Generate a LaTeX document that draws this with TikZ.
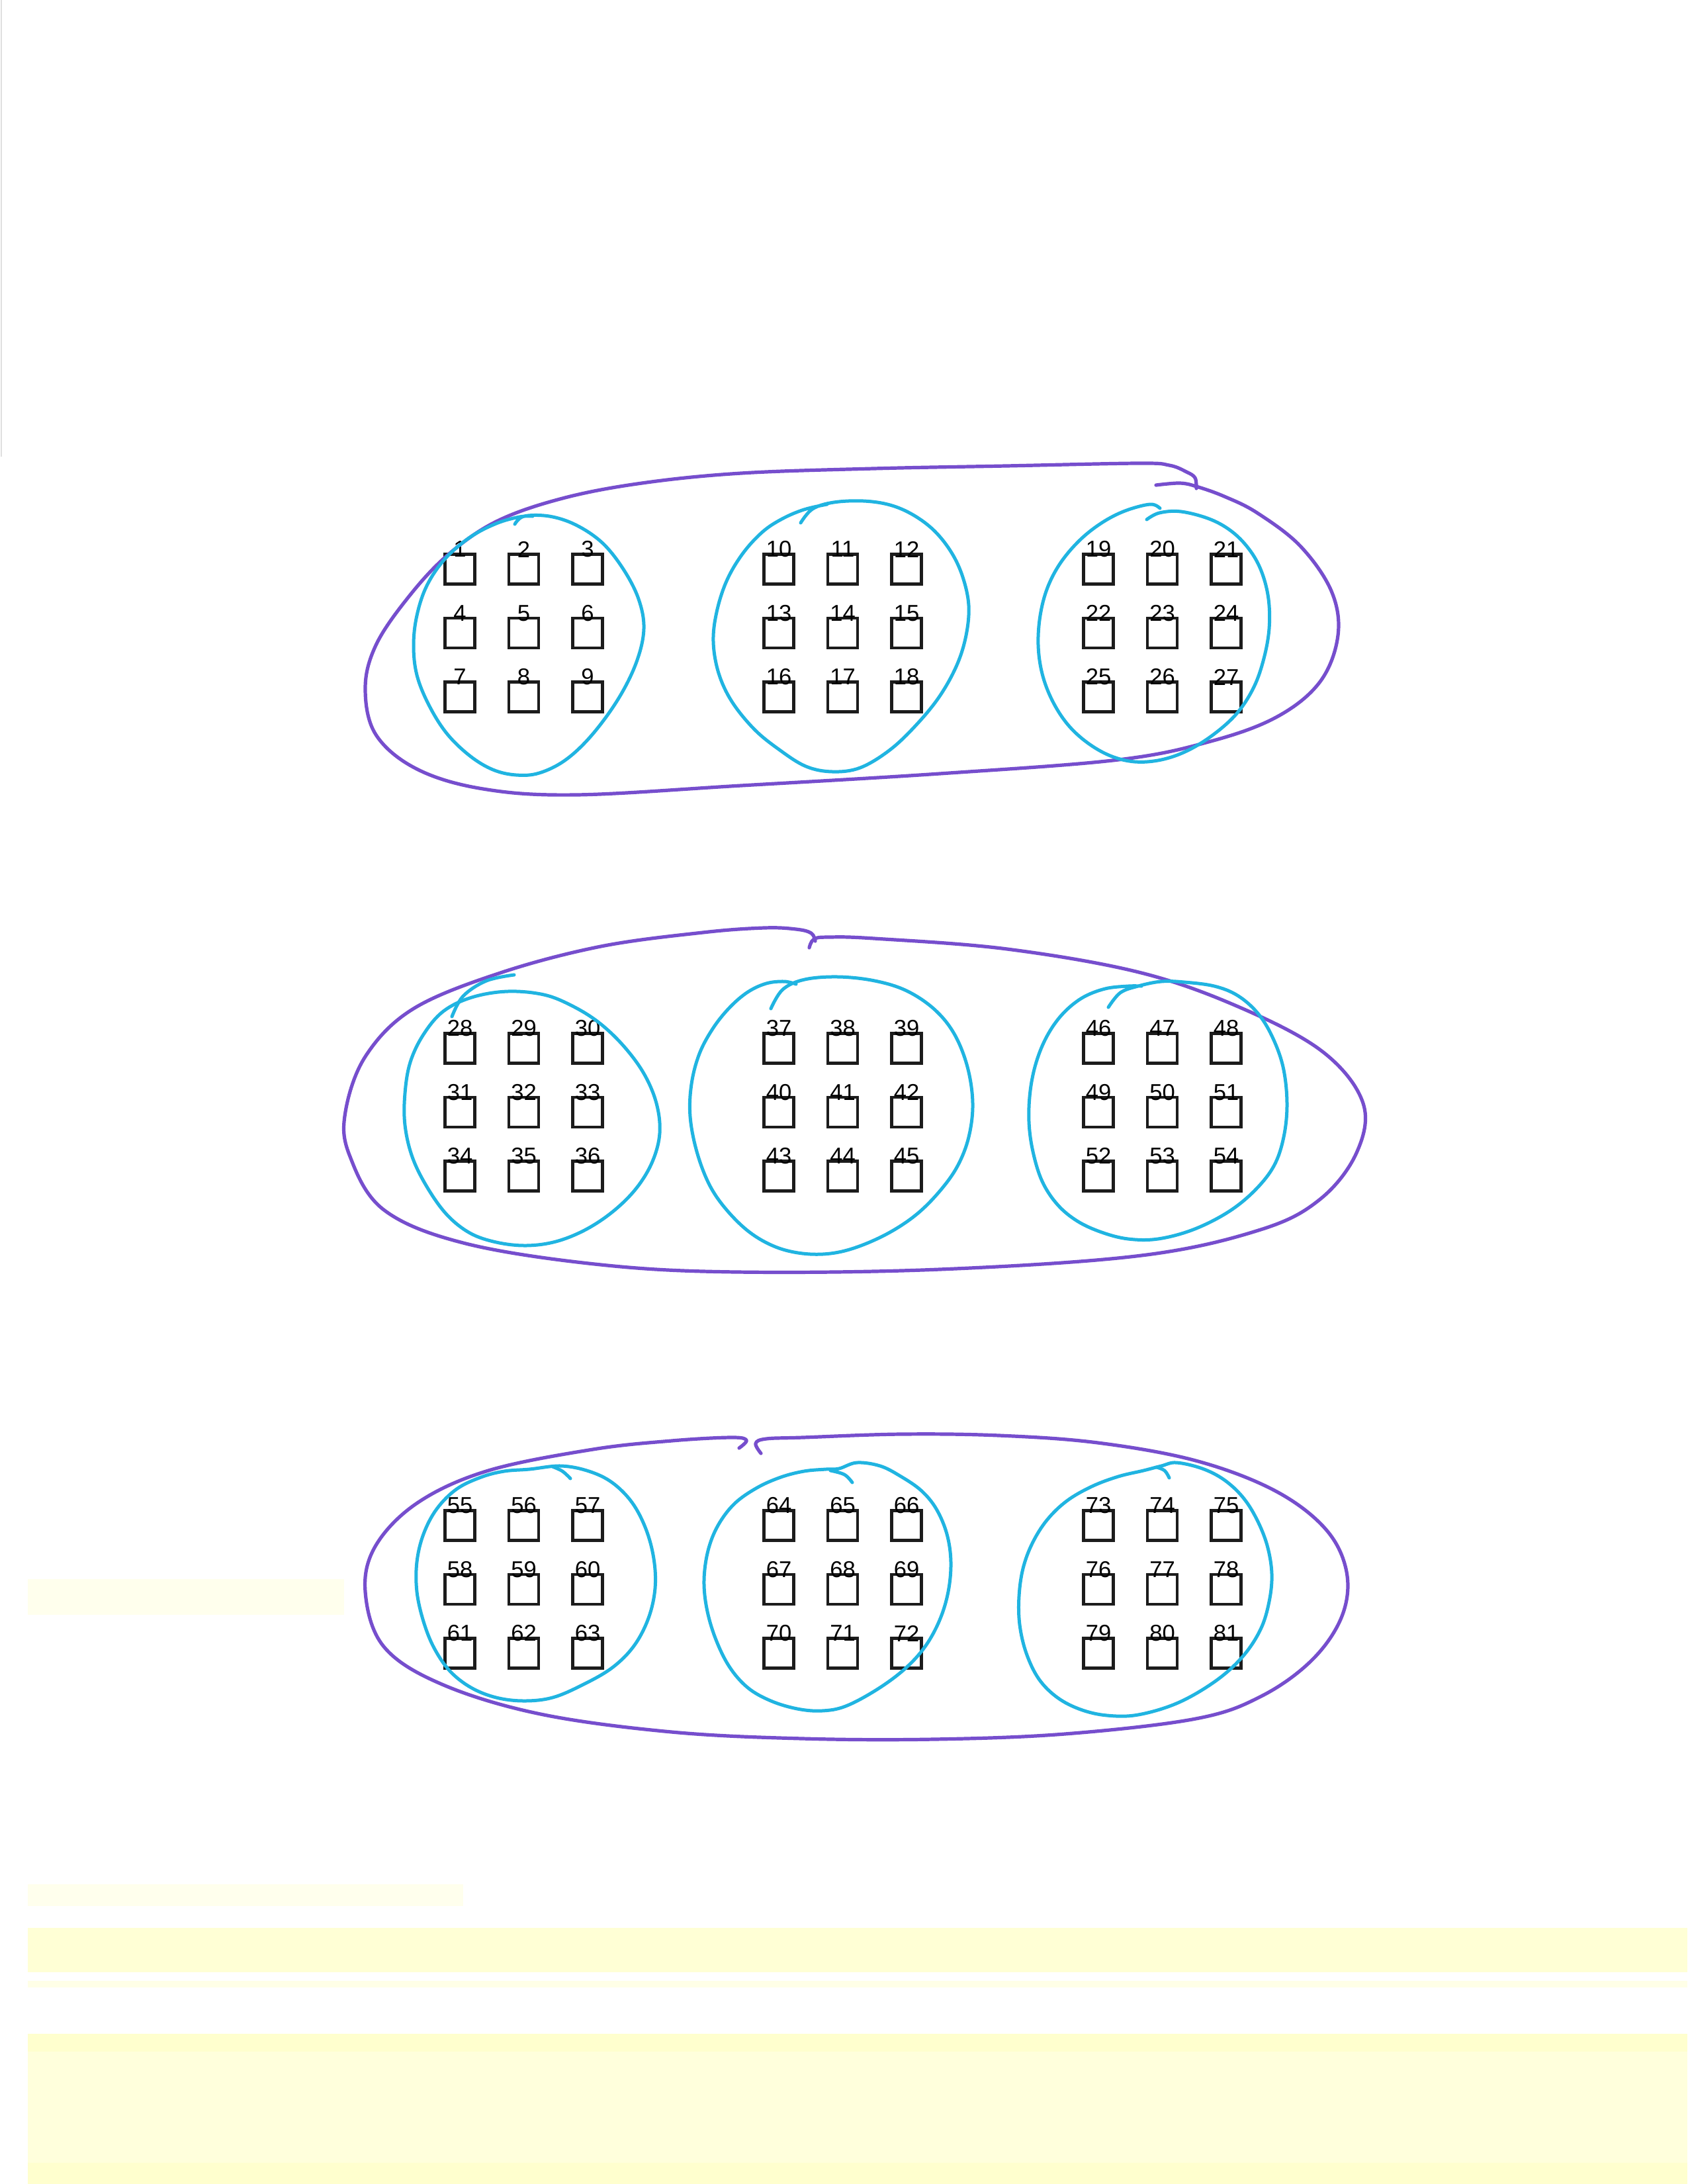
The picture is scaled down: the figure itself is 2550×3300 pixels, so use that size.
\documentclass[tikz,border=0pt]{standalone}
\usepackage{fontspec}
\setmainfont{Liberation Sans}
\definecolor{hpurple}{RGB}{118,78,205}
\definecolor{hcyan}{RGB}{32,180,225}
\definecolor{boxblack}{RGB}{28,28,28}
\definecolor{scanyellow}{RGB}{255,255,185}
\tikzset{
  cell/.style={draw=boxblack, line width=1.1pt, minimum size=10.8pt, inner sep=0pt},
  lab/.style={inner sep=0pt, text=black, font=\fontsize{8.3}{9}\selectfont},
  purpleline/.style={draw=hpurple, line width=1.25pt, line cap=round, line join=round},
  cyanline/.style={draw=hcyan, line width=1.2pt, line cap=round, line join=round},
}
\begin{document}
\begin{tikzpicture}[x=0.24pt, y=-0.24pt]
\useasboundingbox (0,0) rectangle (2550,3300);
\fill[white] (0,0) rectangle (2550,3300);
% scan artefacts
\fill[scanyellow!25] (42,2386) rectangle (520,2440);
\fill[scanyellow!25] (42,2847) rectangle (700,2880);
\fill[scanyellow!60] (42,2913) rectangle (2550,2980);
\fill[scanyellow!35] (42,2993) rectangle (2550,3003);
\fill[scanyellow!50] (42,3073) rectangle (2550,3300);
\fill[scanyellow!70] (42,3073) rectangle (2550,3100);
\fill[scanyellow!70] (42,3268) rectangle (2550,3300);
\draw[gray!25, line width=0.3pt] (2,0) -- (2,690);

% boxes and numbers
\foreach \by/\base in {860/0,1584/27,2305/54}{
  \foreach \gx [count=\g from 0] in {695,1177,1660}{
    \foreach \r in {0,1,2}{
      \foreach \c in {0,1,2}{
        \pgfmathtruncatemacro{\n}{\base+9*\g+3*\r+\c+1}
        \pgfmathsetmacro{\px}{\gx+96.5*\c}
        \pgfmathsetmacro{\py}{\by+96.5*\r}
        \pgfmathsetmacro{\ly}{\py-30}
        \node[cell] (b\n) at (\px,\py) {};
        \node[lab] (l\n) at (\px,\ly) {\n};
      }
    }
  }
}

% ---------- top block ----------
\draw[purpleline] plot[smooth, tension=0.6] coordinates {(1808,738) (1806,722) (1793,713) (1767,703) (1720,700) (1520,704) (1320,708) (1120,715) (970,730) (850,753) (750,788) (675,840) (615,905) (568,975) (552,1040) (568,1110) (630,1162) (730,1192) (870,1201) (1120,1187) (1420,1169) (1690,1148) (1830,1120) (1930,1083) (1995,1030) (2022,960) (2012,893) (1965,825) (1900,775) (1850,750) (1808,735) (1783,730) (1747,733)};
\draw[cyanline] plot[smooth, tension=0.6] coordinates {(778,792) (792,780) (830,780) (870,793) (910,820) (942,860) (965,905) (973,950) (962,1000) (935,1055) (895,1110) (855,1148) (815,1168) (780,1171) (745,1163) (710,1142) (675,1108) (648,1065) (630,1020) (625,975) (630,930) (645,885) (672,845) (710,812) (750,791) (785,781) (805,780)};
\draw[cyanline] plot[smooth, tension=0.6] coordinates {(1210,790) (1228,769) (1260,759) (1305,757) (1345,763) (1380,778) (1412,802) (1438,835) (1455,872) (1464,915) (1460,960) (1446,1005) (1420,1052) (1385,1095) (1345,1133) (1300,1160) (1258,1166) (1218,1158) (1178,1133) (1140,1102) (1106,1060) (1086,1017) (1078,970) (1083,925) (1098,878) (1122,837) (1152,804) (1182,784) (1215,770) (1250,762)};
\draw[cyanline] plot[smooth, tension=0.6] coordinates {(1733,785) (1752,775) (1785,773) (1830,785) (1864,805) (1890,833) (1907,865) (1917,905) (1918,950) (1910,995) (1895,1038) (1870,1077) (1835,1109) (1795,1134) (1755,1148) (1715,1151) (1678,1142) (1643,1122) (1613,1094) (1590,1058) (1575,1018) (1569,975) (1572,930) (1583,888) (1603,850) (1632,816) (1665,790) (1700,772) (1738,762) (1753,768)};

% ---------- middle block ----------
\draw[purpleline] plot[smooth, tension=0.6] coordinates {(1223,1432) (1230,1419) (1252,1416) (1321,1418) (1522,1434) (1725,1470) (1878,1524) (2000,1590) (2060,1667) (2050,1742) (1995,1812) (1905,1858) (1725,1897) (1420,1918) (1114,1922) (908,1911) (704,1879) (580,1828) (528,1745) (522,1680) (553,1595) (625,1524) (756,1470) (908,1430) (1062,1409) (1155,1402) (1203,1404) (1226,1410) (1232,1422)};
\draw[cyanline] plot[smooth, tension=0.6] coordinates {(683,1536) (700,1505) (735,1482) (777,1473)};
\draw[cyanline] plot[smooth cycle, tension=0.6] coordinates {(767,1498) (822,1503) (865,1520) (905,1545) (942,1580) (973,1622) (992,1667) (997,1712) (986,1755) (962,1795) (927,1830) (885,1858) (840,1876) (795,1882) (750,1877) (710,1863) (675,1835) (645,1793) (623,1748) (612,1700) (612,1652) (620,1605) (640,1563) (670,1528) (713,1507)};
\draw[cyanline] plot[smooth, tension=0.6] coordinates {(1165,1524) (1183,1495) (1216,1480) (1267,1476) (1322,1482) (1370,1497) (1412,1525) (1442,1562) (1462,1612) (1470,1667) (1464,1718) (1447,1762) (1420,1800) (1385,1835) (1343,1863) (1296,1884) (1255,1894) (1213,1894) (1172,1884) (1133,1862) (1098,1828) (1072,1790) (1053,1740) (1043,1687) (1045,1638) (1057,1592) (1078,1553) (1103,1522) (1130,1499) (1158,1486) (1185,1483) (1203,1487)};
\draw[cyanline] plot[smooth, tension=0.6] coordinates {(1675,1522) (1693,1500) (1720,1490) (1755,1483) (1790,1484) (1835,1490) (1870,1504) (1900,1530) (1922,1565) (1939,1612) (1945,1667) (1940,1718) (1925,1762) (1895,1800) (1855,1832) (1803,1858) (1750,1872) (1705,1872) (1665,1862) (1628,1845) (1598,1820) (1575,1785) (1561,1740) (1555,1695) (1557,1648) (1566,1605) (1582,1566) (1605,1533) (1635,1508) (1670,1494) (1705,1490) (1725,1490)};

% ---------- bottom block ----------
\draw[purpleline] plot[smooth, tension=0.6] coordinates {(1150,2196) (1142,2181) (1158,2174) (1213,2172) (1361,2167) (1510,2169) (1659,2180) (1807,2207) (1926,2252) (2003,2310) (2035,2375) (2028,2442) (1983,2508) (1906,2563) (1807,2597) (1609,2620) (1411,2628) (1213,2627) (1015,2617) (817,2590) (668,2545) (580,2488) (552,2405) (568,2335) (632,2270) (738,2222) (896,2190) (1015,2177) (1104,2172) (1128,2176) (1117,2188)};
\draw[cyanline] plot[smooth cycle, tension=0.6] coordinates {(800,2220) (848,2215) (890,2223) (925,2240) (955,2270) (976,2310) (988,2355) (990,2400) (980,2445) (958,2487) (925,2520) (880,2546) (835,2565) (792,2570) (750,2565) (712,2550) (680,2525) (656,2490) (640,2450) (630,2405) (630,2360) (640,2318) (660,2280) (690,2250) (727,2232) (762,2223)};
\draw[cyanline] plot[smooth, tension=0.6] coordinates {(835,2216) (850,2223) (862,2234)};
\draw[cyanline] plot[smooth cycle, tension=0.6] coordinates {(1295,2210) (1330,2215) (1360,2230) (1392,2252) (1415,2280) (1431,2318) (1437,2360) (1433,2405) (1420,2448) (1398,2488) (1367,2522) (1325,2553) (1278,2578) (1242,2585) (1205,2582) (1165,2570) (1130,2550) (1102,2518) (1081,2475) (1068,2430) (1064,2387) (1070,2343) (1085,2305) (1110,2272) (1144,2248) (1180,2232) (1215,2223) (1248,2220) (1268,2219)};
\draw[cyanline] plot[smooth, tension=0.6] coordinates {(1255,2222) (1276,2228) (1288,2240)};
\draw[cyanline] plot[smooth cycle, tension=0.6] coordinates {(1778,2210) (1817,2219) (1850,2236) (1878,2262) (1899,2295) (1915,2335) (1922,2378) (1918,2420) (1905,2462) (1878,2503) (1837,2540) (1780,2573) (1720,2591) (1673,2592) (1633,2583) (1598,2565) (1570,2537) (1551,2498) (1541,2455) (1540,2412) (1546,2370) (1560,2332) (1582,2297) (1612,2268) (1650,2246) (1690,2231) (1728,2222) (1755,2215)};
\draw[cyanline] plot[smooth, tension=0.6] coordinates {(1748,2217) (1760,2222) (1767,2233)};
\end{tikzpicture}
\end{document}
